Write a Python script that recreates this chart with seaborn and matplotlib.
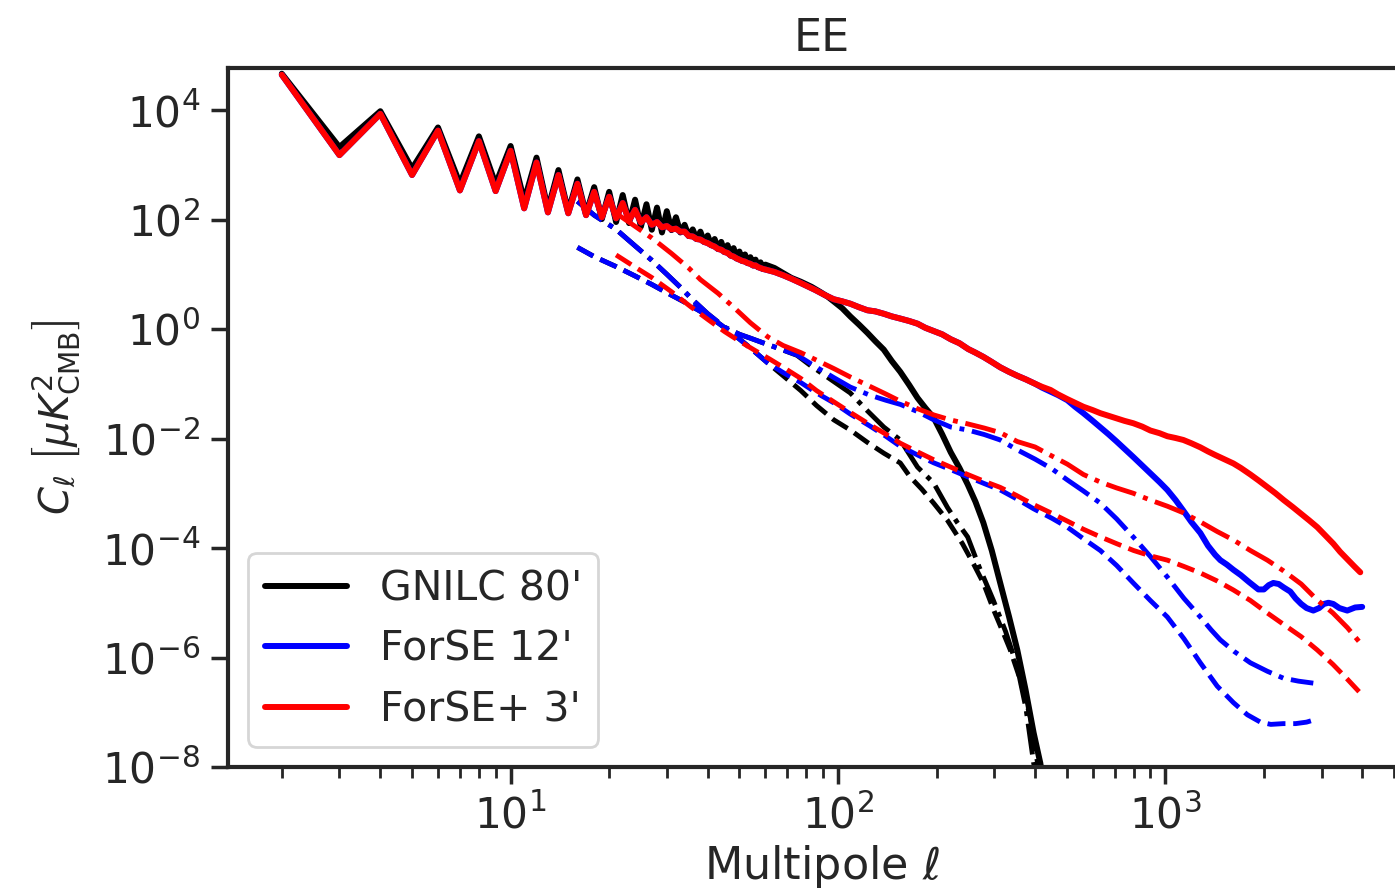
import matplotlib
matplotlib.use("Agg")
import matplotlib.pyplot as plt
import seaborn as sns
from matplotlib.ticker import FixedLocator, NullLocator, LogLocator

# ---------------- data ----------------
ell_lo = list(range(2, 61))

gnilc_lo = [4.6e4, 2.1e3, 9.5e3, 8.5e2, 4.8e3, 4.5e2, 3.3e3, 4.4e2, 2.2e3, 2.2e2,
            1.35e3, 1.55e2, 8.0e2, 1.4e2, 5.4e2, 1.25e2, 3.9e2, 1.02e2, 3.2e2, 90,
            2.8e2, 86, 2.3e2, 74, 1.9e2, 65, 1.65e2, 58, 1.42e2, 64,
            1.1e2, 58, 80, 50, 66, 44, 60, 39, 51, 34,
            44, 29, 39, 25.5, 34, 22, 30, 19.5, 26, 17.5,
            23, 16, 20.5, 14.5, 18.5, 13.5, 16.5, 12.5, 15]

forse_lo = [4.4e4, 1.5e3, 8.5e3, 6.5e2, 4.2e3, 3.4e2, 2.7e3, 3.3e2, 1.8e3, 1.6e2,
            1.1e3, 1.35e2, 6.5e2, 1.3e2, 4.5e2, 1.2e2, 3.2e2, 1.1e2, 2.6e2, 1.05e2,
            2.0e2, 95, 1.5e2, 88, 1.1e2, 80, 90, 72, 76, 66,
            68, 60, 60, 50, 49, 44, 43, 39, 37, 34,
            32, 29, 28, 25.5, 24.5, 22, 21, 19.5, 18.5, 17.5,
            17, 16, 15.5, 14.5, 14.5, 13.5, 13, 12.5, 12.2]

ell_gnilc_hi = [64, 68, 72, 77, 83, 88, 93, 97, 103, 109, 116, 123, 130, 138, 146, 155,
                165, 175, 185, 196, 208, 221, 235, 249, 263, 278, 295, 313, 333, 353,
                374, 396, 415, 430]
gnilc_hi = [13, 10.5, 8.6, 7.3, 5.9, 4.8, 3.9, 3.2, 2.4, 1.7, 1.2, 0.85, 0.6, 0.42, 0.26,
            0.165, 0.095, 0.055, 0.036, 0.024, 0.012, 5.6e-3, 2.9e-3, 1.45e-3, 7e-4,
            2.9e-4, 9e-5, 2.3e-5, 5.6e-6, 1.37e-6, 2.6e-7, 4.2e-8, 1.18e-8, 3e-9]

ell_plus_hi = [64, 68, 72, 77, 85, 91, 97, 103, 109, 116, 123, 130, 138, 146, 155, 165,
               175, 185, 196, 208, 221, 235, 250, 263, 278, 295, 313, 333, 353, 375,
               400, 420, 446, 470, 500, 530, 562, 600, 633, 670, 700, 750, 798, 850,
               900, 960, 1014, 1075, 1135, 1200, 1279, 1350, 1420, 1500, 1614, 1700,
               1819, 1930, 2049, 2170, 2300, 2450, 2600, 2750, 2912, 3080, 3259, 3420,
               3600, 3780, 3939]
plus_hi = [11, 9.6, 8.3, 6.9, 5.2, 4.2, 3.5, 3.2, 2.9, 2.5, 2.2, 2.1, 1.9, 1.7, 1.55,
           1.4, 1.25, 1.05, 0.92, 0.8, 0.65, 0.55, 0.43, 0.37, 0.31, 0.25, 0.2, 0.165,
           0.14, 0.12, 0.1, 0.088, 0.077, 0.064, 0.053, 0.045, 0.038, 0.033, 0.029,
           0.026, 0.024, 0.021, 0.019, 0.0165, 0.014, 0.0125, 0.011, 0.0102, 0.0094,
           0.0082, 0.0069, 0.0058, 0.005, 0.0043, 0.0035, 0.0029, 0.0022, 0.0017,
           0.0013, 0.001, 7.5e-4, 5.6e-4, 4.2e-4, 3.2e-4, 2.4e-4, 1.7e-4, 1.2e-4,
           8.5e-5, 6.2e-5, 4.6e-5, 3.6e-5]

ell_forse_hi = [420, 446, 470, 502, 530, 562, 600, 633, 670, 710, 750, 798, 850, 900,
                960, 1014, 1075, 1135, 1200, 1279, 1350, 1420, 1472, 1540, 1614, 1700,
                1800, 1924, 2000, 2070, 2137, 2220, 2300, 2408, 2500, 2600, 2700, 2831,
                2950, 3050, 3150, 3259, 3400, 3595, 3800, 3993]
forse_hi = [0.085, 0.072, 0.062, 0.05, 0.038, 0.029, 0.021, 0.016, 0.012, 8.8e-3,
            6.5e-3, 4.6e-3, 3.2e-3, 2.3e-3, 1.6e-3, 1.15e-3, 7.5e-4, 4.8e-4, 3.0e-4,
            1.88e-4, 1.1e-4, 7.5e-5, 6.0e-5, 5.0e-5, 4.0e-5, 3.2e-5, 2.4e-5, 1.75e-5,
            1.75e-5, 2.1e-5, 2.3e-5, 2.2e-5, 1.9e-5, 1.6e-5, 1.2e-5, 9.5e-6, 8e-6,
            7.2e-6, 8.0e-6, 9.5e-6, 1.0e-5, 9.5e-6, 8e-6, 7.2e-6, 8.2e-6, 8.4e-6]

# dashed curves
ell_forse_dash = [16, 18, 21, 24, 27, 30, 34, 38, 43, 48, 54, 61, 68, 77, 86, 97, 109,
                  125, 140, 155, 175, 196, 221, 249, 280, 313, 350, 396, 450, 502, 560,
                  633, 710, 798, 900, 1014, 1140, 1279, 1440, 1614, 1780, 1952, 2100,
                  2292, 2500, 2700, 2900]
forse_dash = [31, 21, 13.8, 9.3, 6.5, 4.6, 3.1, 2.1, 1.3, 0.8, 0.45, 0.24, 0.16, 0.105,
              0.068, 0.045, 0.028, 0.017, 0.011, 7.2e-3, 5.0e-3, 3.6e-3, 2.7e-3, 2.0e-3,
              1.5e-3, 1.15e-3, 8e-4, 5.2e-4, 3.5e-4, 2.4e-4, 1.5e-4, 9e-5, 4.8e-5,
              2.3e-5, 1.1e-5, 5.5e-6, 2.2e-6, 8e-7, 3e-7, 1.5e-7, 9e-8, 6.6e-8, 6e-8,
              6.2e-8, 6.2e-8, 6.6e-8, 7.5e-8]

ell_plus_dash = [21, 24, 27, 31, 35.5, 40, 45, 50, 56, 62, 68, 77, 86, 97, 109, 125, 140,
                 155, 175, 196, 221, 249, 280, 313, 350, 396, 450, 502, 562, 633, 710,
                 800, 900, 1014, 1140, 1279, 1440, 1614, 1819, 2049, 2300, 2600, 2912,
                 3250, 3600, 3939]
plus_dash = [22.5, 13.5, 8.7, 4.8, 2.55, 1.5, 0.9, 0.6, 0.4, 0.28, 0.2, 0.125, 0.075,
             0.047, 0.03, 0.018, 0.012, 8.2e-3, 5.7e-3, 4.1e-3, 3.0e-3, 2.2e-3, 1.65e-3,
             1.28e-3, 9.2e-4, 6.2e-4, 4.3e-4, 3.1e-4, 2.2e-4, 1.6e-4, 1.2e-4, 9e-5,
             7.2e-5, 6.0e-5, 4.6e-5, 3.5e-5, 2.5e-5, 1.71e-5, 1.1e-5, 6.5e-6, 4e-6,
             2.4e-6, 1.37e-6, 7.5e-7, 4e-7, 2.25e-7]

ell_gnilc_dash = [16, 18, 21, 24, 27, 30, 34, 38, 43, 48, 54, 61, 68, 77, 86, 97, 109,
                  123, 138, 155, 166, 180, 196, 216, 240, 260, 278, 300, 320, 336, 360,
                  387, 407, 420]
gnilc_dash = [31, 21, 13.8, 9.3, 6.5, 4.6, 3.1, 2.1, 1.3, 0.8, 0.45, 0.24, 0.14, 0.075,
              0.04, 0.022, 0.0143, 8.5e-3, 5.4e-3, 3.57e-3, 2.0e-3, 1.2e-3, 6.6e-4,
              3.2e-4, 1.2e-4, 5e-5, 2.3e-5, 7e-6, 2.8e-6, 1.37e-6, 4e-7, 8.2e-8,
              1.18e-8, 4e-9]

# dash-dot curves
ell_forse_dd = [16, 18, 21, 24, 27, 30, 33, 36, 40, 45, 50, 54, 59, 66, 75, 86, 97, 109,
                125, 140, 155, 175, 196, 221, 249, 280, 313, 353, 400, 450, 502, 562,
                633, 710, 798, 900, 1014, 1140, 1279, 1380, 1472, 1620, 1819, 2050,
                2292, 2550, 2831]
forse_dd = [215, 120, 66, 33, 18, 10, 5.8, 3.4, 1.9, 1.08, 0.8, 0.68, 0.56, 0.44, 0.335,
            0.2, 0.13, 0.087, 0.062, 0.05, 0.042, 0.031, 0.022, 0.0162, 0.0143, 0.0118,
            0.0094, 6.2e-3, 4.2e-3, 2.8e-3, 1.75e-3, 1.1e-3, 6.6e-4, 3.4e-4, 1.59e-4,
            7e-5, 2.95e-5, 1.2e-5, 5.5e-6, 3.2e-6, 2.1e-6, 1.3e-6, 8e-7, 5.6e-7,
            4.2e-7, 3.7e-7, 3.4e-7]

ell_plus_dd = [21, 24, 27, 31, 35, 38, 43, 48, 54, 61, 68, 77, 86, 97, 109, 125, 140,
               155, 175, 196, 221, 249, 280, 313, 353, 400, 450, 502, 562, 633, 710,
               798, 900, 1014, 1135, 1279, 1440, 1614, 1819, 2049, 2300, 2600, 2912,
               3250, 3600, 3939]
plus_dd = [130, 75, 46, 24, 13, 8, 4.5, 2.5, 1.3, 0.72, 0.5, 0.37, 0.27, 0.19, 0.133,
           0.09, 0.065, 0.048, 0.035, 0.027, 0.0218, 0.0185, 0.0155, 0.0128, 8.8e-3,
           7e-3, 4.8e-3, 3.4e-3, 2.2e-3, 1.6e-3, 1.25e-3, 1.0e-3, 7.5e-4, 5.8e-4,
           4.4e-4, 3.0e-4, 2.0e-4, 1.4e-4, 9.0e-5, 6.0e-5, 3.8e-5, 2.2e-5, 1.12e-5,
           6.5e-6, 3.5e-6, 1.84e-6]

ell_gnilc_dd = [16, 18, 21, 24, 27, 30, 33, 36, 40, 45, 50, 54, 59, 66, 75, 82, 95, 109,
                123, 138, 155, 175, 196, 216, 232, 249, 270, 298, 325, 353, 375, 396, 410]
gnilc_dd = [215, 120, 66, 33, 18, 10, 5.8, 3.4, 1.9, 1.08, 0.8, 0.68, 0.56, 0.44, 0.33,
            0.22, 0.12, 0.068, 0.032, 0.0162, 9.4e-3, 3.0e-3, 1.54e-3, 5.5e-4, 2.86e-4,
            1.59e-4, 4.5e-5, 1.12e-5, 3e-6, 6.7e-7, 1.2e-7, 1.18e-8, 4e-9]

labels = ["GNILC 80'", "ForSE 12'", "ForSE+ 3'"]
colors = ["black", "blue", "red"]

# assembled solid spectra
ell_gnilc = ell_lo + ell_gnilc_hi
gnilc = gnilc_lo + gnilc_hi
ell_plus = ell_lo + ell_plus_hi
plus = forse_lo + plus_hi
n_low = sum(1 for e in ell_plus if e < 420)
ell_forse = ell_plus[:n_low] + ell_forse_hi
forse = plus[:n_low] + forse_hi

# ---------------- plot ----------------
sns.set_theme(style="ticks", context="poster", font_scale=1.3)
plt.rcParams["font.family"] = ["DejaVu Sans"]

fig = plt.figure(figsize=(13.95, 8.94), dpi=100)
ax = fig.add_axes([228 / 1395, 1 - 767 / 894, (1416 - 228) / 1395, (767 - 68) / 894])
ax.set_xscale("log")
ax.set_yscale("log")

groups = [
    (ell_gnilc, gnilc, ell_gnilc_dash, gnilc_dash, ell_gnilc_dd, gnilc_dd),
    (ell_forse, forse, ell_forse_dash, forse_dash, ell_forse_dd, forse_dd),
    (ell_plus, plus, ell_plus_dash, plus_dash, ell_plus_dd, plus_dd),
]

handles = []
for (es, vs, ed, vd, edd, vdd), col, lab in zip(groups, colors, labels):
    sns.lineplot(x=es, y=vs, color=col, lw=4.3, ax=ax, legend=False, errorbar=None)
    handles.append(ax.lines[-1])
    sns.lineplot(x=ed, y=vd, color=col, lw=3.5, linestyle="--", ax=ax, legend=False,
                 errorbar=None)
    sns.lineplot(x=edd, y=vdd, color=col, lw=3.5, linestyle="-.", ax=ax, legend=False,
                 errorbar=None)

ax.set_xlim(1.37, 5830)
ax.set_ylim(1e-8, 5.85e4)
ax.yaxis.set_major_locator(FixedLocator([1e-8, 1e-6, 1e-4, 1e-2, 1e0, 1e2, 1e4]))
ax.yaxis.set_minor_locator(NullLocator())
ax.xaxis.set_major_locator(LogLocator(base=10))
ax.xaxis.set_minor_locator(LogLocator(base=10, subs=range(2, 10)))
ax.tick_params(axis="both", which="major", labelsize=30.5, pad=8)

ax.set_xlabel(r"Multipole $\ell$", fontsize=32)
ax.set_ylabel(r"$C_\ell\ \left[\mu K^2_{\rm CMB}\right]$", fontsize=29, labelpad=14)
ax.set_title("EE", pad=12, fontsize=32)
leg = ax.legend(handles, labels, loc="lower left", fontsize=29.5)
for h in leg.get_lines():
    h.set_linewidth(4.3)

for sp in ax.spines.values():
    sp.set_linewidth(3)

fig.savefig("out.png", dpi=100)
